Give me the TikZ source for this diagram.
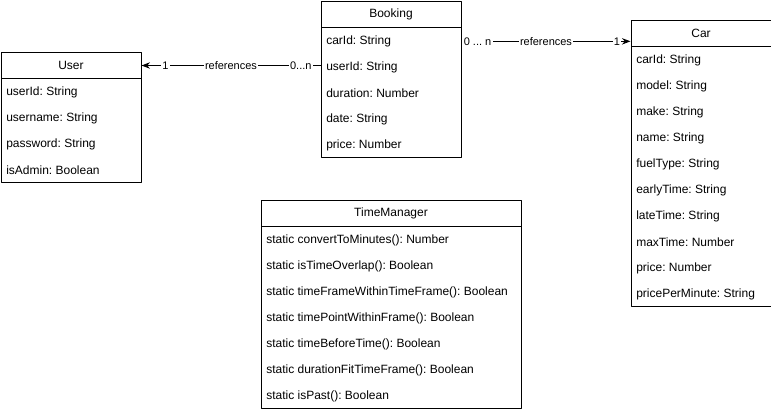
\documentclass[tikz,border=0pt]{standalone}
\usepackage{fontspec}
\setmainfont{Liberation Sans}
\frenchspacing
\usetikzlibrary{arrows.meta}
\tikzset{
	classhead/.style={draw, line width=0.75pt, anchor=north west, minimum width=105pt, minimum height=19.5pt, inner sep=0pt},
	classbody/.style={draw, line width=0.75pt, anchor=north west, minimum width=105pt, inner sep=0pt},
	attr/.style={anchor=west, inner sep=0pt, yshift=-1pt},
	edgelabel/.style={fill=white, inner sep=1pt, font=\fontsize{8.25}{10}\selectfont}
}
\begin{document}
\begin{tikzpicture}[x=0.75pt, y=-0.75pt, >=Stealth, line join=round, font=\fontsize{9}{11}\selectfont]
		\useasboundingbox (0,0) rectangle (771,412);
		% User
		\node[classhead] (user) at (0.5,52) {User};
		\node[classbody, minimum height=78pt] (user body) at (0.5,78) {};
		\foreach \t [count=\i] in {userId: String, username: String, password: String, isAdmin: Boolean}
			\node[attr] (user-\i) at (6,{65+26*\i}) {\t};
		% Booking
		\node[classhead] (booking) at (320.5,1) {Booking};
		\node[classbody, minimum height=97.5pt] (booking body) at (320.5,27) {};
		\foreach \t [count=\i] in {carId: String, userId: String, duration: Number, date: String, price: Number}
			\node[attr] (booking-\i) at (326,{14+26*\i}) {\t};
		% Car
		\node[classhead] (car) at (630.5,20) {Car};
		\node[classbody, minimum height=195pt] (car body) at (630.5,46) {};
		\foreach \t [count=\i] in {carId: String, model: String, make: String, name: String, fuelType: String, earlyTime: String, lateTime: String, maxTime: Number, price: Number, pricePerMinute: String}
			\node[attr] (car-\i) at (636,{33+26*\i}) {\t};
		% TimeManager
		\node[classhead, minimum width=195pt] (time) at (260.5,200) {TimeManager};
		\node[classbody, minimum width=195pt, minimum height=136.5pt] (time body) at (260.5,226) {};
		\foreach \t [count=\i] in {static convertToMinutes(): Number, static isTimeOverlap(): Boolean, static timeFrameWithinTimeFrame(): Boolean, static timePointWithinFrame(): Boolean, static timeBeforeTime(): Boolean, static durationFitTimeFrame(): Boolean, static isPast(): Boolean}
			\node[attr] (time-\i) at (266,{213+26*\i}) {\t};
		% Associations
		\draw[->, line width=0.75pt] (booking body.west |- user.east) -- (user.east)
			node[edgelabel, pos=0.11] {0...n}
			node[edgelabel, pos=0.5] {references}
			node[edgelabel, pos=0.866] {1};
		\draw[->, line width=0.75pt] (booking body.east |- booking-1.west) -- (car.west |- booking-1.west)
			node[edgelabel, pos=0.095] {0 ... n}
			node[edgelabel, pos=0.5] {references}
			node[edgelabel, pos=0.92] {1};
	\end{tikzpicture}
\end{document}
